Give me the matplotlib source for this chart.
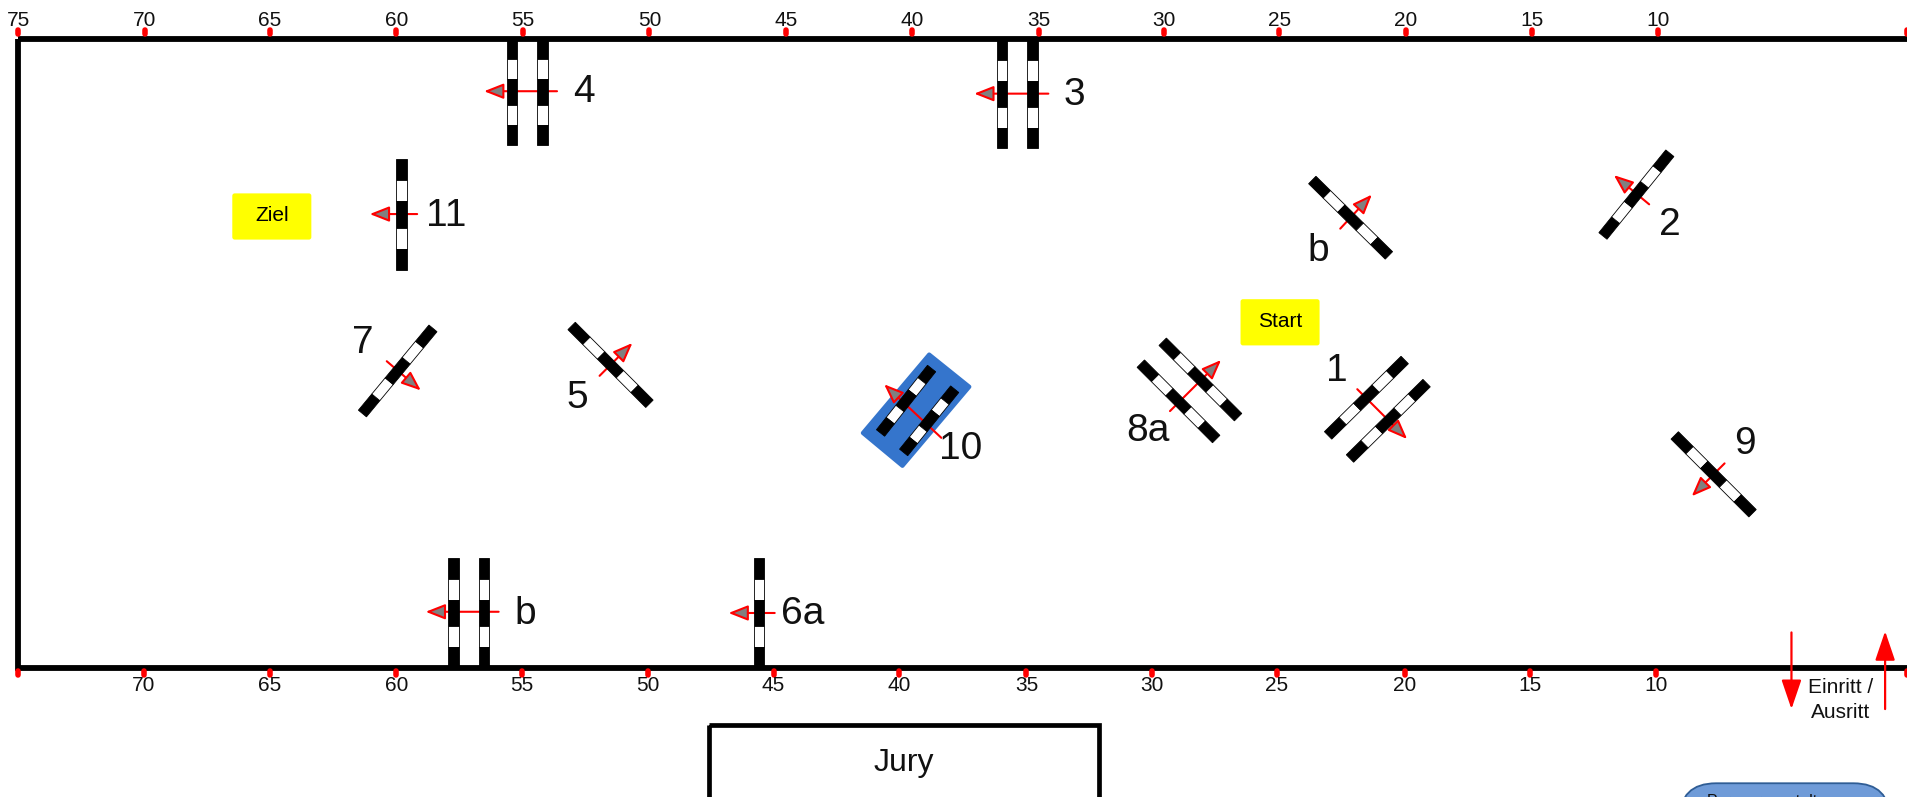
import numpy as np
import matplotlib
matplotlib.use("Agg")
import matplotlib.pyplot as plt
from matplotlib.patches import Polygon, FancyBboxPatch, Rectangle

plt.rcParams['font.family'] = ['Liberation Sans', 'DejaVu Sans']

# All positions are in the arena plan's own units
W, H = 1568.0, 655.3
FRAME = (15, 32, 1569.6, 549)

top_ticks = [75, 70, 65, 60, 55, 50, 45, 40, 35, 30, 25, 20, 15, 10]
top_x = [15, 119, 222, 326, 430, 534, 646, 750, 854, 957, 1052, 1156, 1260, 1363]
top_extra_x = [1568]
bottom_ticks = [70, 65, 60, 55, 50, 45, 40, 35, 30, 25, 20, 15, 10]
bottom_x = [118, 222, 326, 429, 533, 636, 739, 844, 947, 1050, 1155, 1258, 1362]
bottom_extra_x = [15, 1568]

# pole ends: (x0, y0, x1, y1)
poles = [
    (421, 32, 421, 119), (446, 32, 446, 119),      # 4
    (824, 32, 824, 122), (849, 32, 849, 122),      # 3
    (330, 131, 330, 222),                          # 11
    (1318, 194, 1373, 126),                        # 2
    (1079, 148, 1142, 210),                        # b
    (298, 340, 356, 270),                          # 7
    (470, 268, 534, 332),                          # 5
    (938, 299, 1000, 361), (956, 281, 1018, 343),  # 8a
    (1092, 358, 1155, 296), (1110, 377, 1173, 315),  # 1
    (1377, 358, 1441, 422),                        # 9
    (373, 459, 373, 549), (398, 459, 398, 549),    # b
    (624, 459, 624, 549),                          # 6a
]
poles_10 = [(766, 303, 724, 356), (785, 320, 743, 372)]
water_box = [(764, 291.5), (797, 318), (742, 383), (709.5, 356)]

# arrows: tail x, tail y, head x, head y
arrows = [
    (458, 75, 398, 75), (862, 77, 801, 77), (343, 176, 304, 176),
    (1356, 168, 1327, 144), (1102, 188, 1128, 160), (318, 297, 346, 321),
    (493, 309, 520, 282), (962, 338, 1004, 296), (1116, 320, 1157, 361),
    (1418, 381, 1391, 408), (410, 503, 350, 503), (637, 504, 599, 504),
    (774, 360, 727, 316),
]
labels = ['4', '3', '11', '2', 'b', '7', '5', '8a', '1', '9', '10', 'b', '6a']
label_x = [480, 883, 367, 1373, 1084, 298, 475, 944, 1099, 1435, 790, 432, 660]
label_y = [76, 78, 178, 185, 206, 282, 327, 354, 305, 365, 369, 505, 505]

boxes = ['Ziel', 'Start']
box_x = [191, 1020]
box_y = [159, 246]
box_w, box_h = 65, 38

SEGMENTS = [0.19, 0.19, 0.24, 0.19, 0.19]


def draw_pole(ax, x0, y0, x1, y1, width=8.6):
    p0 = np.array([x0, y0], float)
    p1 = np.array([x1, y1], float)
    d = p1 - p0
    n = np.array([-d[1], d[0]]) / np.hypot(*d) * width / 2
    s = 0.0
    for i, f in enumerate(SEGMENTS):
        a, b = p0 + d * s, p0 + d * (s + f)
        s += f
        col = 'black' if i % 2 == 0 else 'white'
        ax.add_patch(Polygon([a + n, b + n, b - n, a - n], closed=True, facecolor=col,
                             edgecolor='black', linewidth=0.6, zorder=4))


fig = plt.figure(figsize=(19.07, 7.97), dpi=100)
ax = fig.add_axes([0, 0, 1, 1])
ax.set_xlim(0, W)
ax.set_ylim(H, 0)
ax.axis('off')

l, t, r, b = FRAME
ax.add_patch(Rectangle((l, t), r - l, b - t, fill=False, edgecolor='black',
                       linewidth=4.2, joinstyle='miter', zorder=2))

for v, x in zip(top_ticks, top_x):
    ax.plot([x, x], [25, 28], color='red', lw=4.0, solid_capstyle='round', zorder=3)
    ax.text(x, 16.5, str(v), ha='center', va='center', fontsize=15, color='#111111')
for x in top_extra_x:
    ax.plot([x, x], [25, 28], color='red', lw=4.0, solid_capstyle='round', zorder=3)
for v, x in zip(bottom_ticks, bottom_x):
    ax.plot([x, x], [552, 555], color='red', lw=4.0, solid_capstyle='round', zorder=3)
    ax.text(x, 564, str(v), ha='center', va='center', fontsize=15, color='#111111')
for x in bottom_extra_x:
    ax.plot([x, x], [552, 555], color='red', lw=4.0, solid_capstyle='round', zorder=3)

ax.add_patch(Polygon(water_box, closed=True, facecolor='#3575cc', edgecolor='#3575cc',
                     linewidth=3, joinstyle='round', zorder=1))

for (x0, y0, x1, y1) in arrows:
    ax.annotate('', xy=(x1, y1), xytext=(x0, y0), zorder=3,
                arrowprops=dict(arrowstyle='-|>,head_length=0.66,head_width=0.26', mutation_scale=18,
                                edgecolor='red', facecolor='#808080', lw=1.5,
                                shrinkA=0, shrinkB=0))

for p in poles:
    draw_pole(ax, *p)
for p in poles_10:
    draw_pole(ax, *p)

for s, x, y in zip(labels, label_x, label_y):
    ax.text(x, y, s, ha='center', va='center', fontsize=28, color='#111111', zorder=5)

for s, x, y in zip(boxes, box_x, box_y):
    ax.add_patch(FancyBboxPatch((x + 2, y + 2), box_w - 4, box_h - 4, boxstyle='round,pad=2,rounding_size=2',
                                facecolor='#ffff00', edgecolor='#ffff00', linewidth=0, zorder=3))
    ax.text(x + box_w / 2, y + box_h / 2 - 1, s, ha='center', va='center', fontsize=15, color='black', zorder=5)

# entry and exit arrows
for x0, y0, y1 in [(1473, 520, 583), (1550, 583, 519)]:
    ax.annotate('', xy=(x0, y1), xytext=(x0, y0), zorder=3,
                arrowprops=dict(arrowstyle='-|>,head_length=1.0,head_width=0.34', mutation_scale=18,
                                color='red', lw=1.6, shrinkA=0, shrinkB=0))
ax.text(1513, 565, 'Einritt /', ha='center', va='center', fontsize=15, color='#111111', zorder=5)
ax.text(1513, 586, 'Ausritt', ha='center', va='center', fontsize=15, color='#111111', zorder=5)

# jury box runs off the bottom edge
ax.add_patch(Rectangle((583, 596), 321, 100, fill=False, edgecolor='black', linewidth=3.4,
                       joinstyle='miter', zorder=2))
ax.text(743, 627, 'Jury', ha='center', va='center', fontsize=23, color='#111111')

# course designer box runs off the bottom edge
ax.add_patch(FancyBboxPatch((1381, 644), 173, 60, boxstyle='round,pad=0,rounding_size=30',
                            facecolor='#6f9bd8', edgecolor='#2f5d95', linewidth=1.3, zorder=2))
ax.text(1462, 662.4, 'Parcoursgestaltung:', ha='center', va='baseline', fontsize=11.5,
        color='#111111', zorder=5)

fig.savefig('out.png', dpi=100)
